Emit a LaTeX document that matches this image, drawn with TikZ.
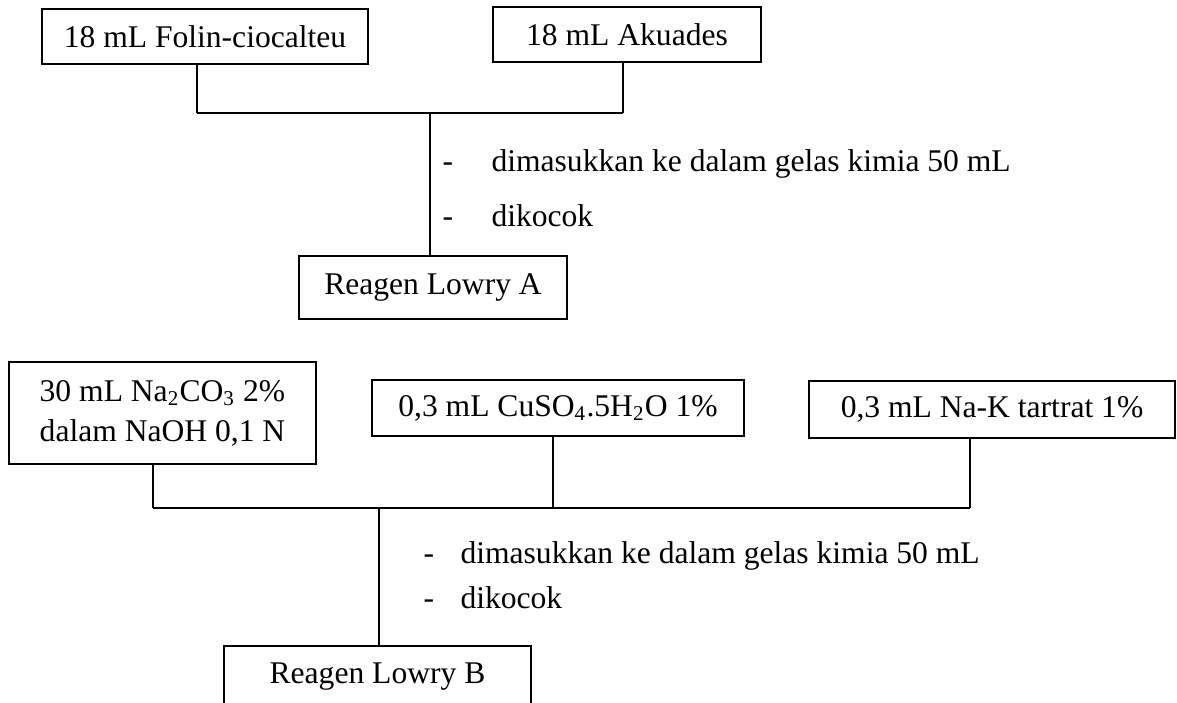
\documentclass[tikz,border=0pt]{standalone}
\usepackage{fontspec}
\setmainfont{Liberation Serif}
\usetikzlibrary{calc}

\begin{document}
\begin{tikzpicture}[x=0.38pt,y=-0.38pt,
        kotak/.style={draw,line width=0.45pt,inner sep=0pt,align=center,
            font=\fontsize{12}{15.2}\selectfont},
        teks/.style={inner sep=0pt,anchor=base west,font=\fontsize{12}{14.4}\selectfont},
        garis/.style={line width=0.45pt},
        bus/.style={line width=0.7pt}]
        \useasboundingbox (0,0) rectangle (1177,702);

        % Reagen Lowry A
        \node[kotak,minimum width=326*0.38pt,minimum height=55*0.38pt] (folin) at (205,36.5) {18 mL Folin-ciocalteu};
        \node[kotak,minimum width=268*0.38pt,minimum height=55*0.38pt] (akuades) at (627,34.5) {18 mL Akuades};
        \node[kotak,minimum width=268*0.38pt,minimum height=63*0.38pt] (lowryA) at (433,287.5) {Reagen Lowry A};

        \coordinate (a1) at (197,113);
        \coordinate (a2) at (623,113);
        \coordinate (ja) at (430,113);

        \draw[garis] (a1 |- folin.south) -- (a1);
        \draw[garis] (a2 |- akuades.south) -- (a2);
        \draw[bus] (a1) -- (a2);
        \draw[garis] (ja) -- (ja |- lowryA.north);

        \node[teks] (da1) at (442,171) {-};
        \node[teks] (ta1) at (491,171) {dimasukkan ke dalam gelas kimia 50 mL};
        \node[teks] (da2) at (442,226) {-};
        \node[teks] (ta2) at (491,226) {dikocok};

        % Reagen Lowry B
        \node[kotak,minimum width=307*0.38pt,minimum height=102*0.38pt] (naco) at (162.5,413)
            {30 mL Na\textsubscript{2}CO\textsubscript{3} 2\%\\dalam NaOH 0,1 N};
        \node[kotak,minimum width=372*0.38pt,minimum height=56*0.38pt] (cuso) at (558,408)
            {0,3 mL CuSO\textsubscript{4}.5H\textsubscript{2}O 1\%};
        \node[kotak,minimum width=366*0.38pt,minimum height=57*0.38pt] (nak) at (992,409.5)
            {0,3 mL Na-K tartrat 1\%};
        \node[kotak,minimum width=307*0.38pt,minimum height=62*0.38pt] (lowryB) at (377.5,677) {Reagen Lowry B};

        \coordinate (b1) at (153,508);
        \coordinate (b2) at (553,508);
        \coordinate (b3) at (970,508);
        \coordinate (jb) at (379,508);

        \draw[garis] (b1 |- naco.south) -- (b1);
        \draw[garis] (b2 |- cuso.south) -- (b2);
        \draw[garis] (b3 |- nak.south) -- (b3);
        \draw[bus] (b1) -- (b3);
        \draw[garis] (jb) -- (jb |- lowryB.north);

        \node[teks] (db1) at (423,563) {-};
        \node[teks] (tb1) at (460,563) {dimasukkan ke dalam gelas kimia 50 mL};
        \node[teks] (db2) at (423,608) {-};
        \node[teks] (tb2) at (460,608) {dikocok};
\end{tikzpicture}
\end{document}
